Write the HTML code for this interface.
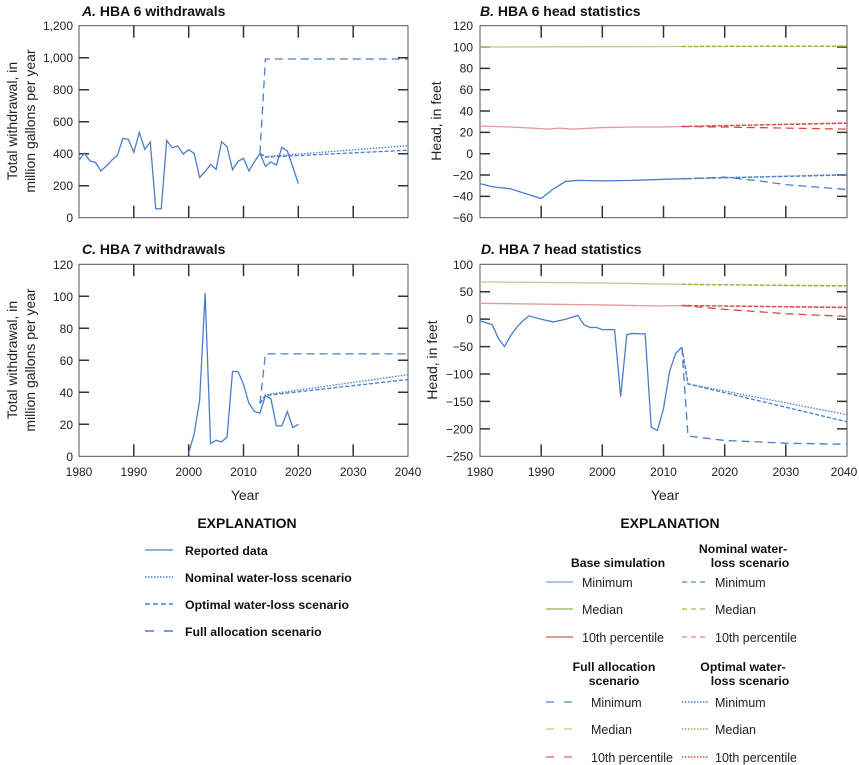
<!DOCTYPE html>
<html><head><meta charset="utf-8"><style>
html,body{margin:0;padding:0;background:#fff;}
svg{display:block;font-family:"Liberation Sans Narrow","Liberation Sans",sans-serif;}
.t{font-size:12px;fill:#222;}
.h{font-size:14px;font-weight:bold;fill:#111;}
.lg{font-size:12.5px;fill:#222;}
.lb{font-size:12.3px;font-weight:bold;fill:#111;}
.d{fill:none;vector-effect:non-scaling-stroke;stroke-width:1.3;}
.ax{fill:none;stroke:#555;stroke-width:1;}
.tk{stroke:#333;stroke-width:1.5;}
</style></head><body>
<svg width="859" height="765" viewBox="0 0 859 765">
<text x="82" y="16" class="h"><tspan font-style="italic">A.</tspan> HBA 6 withdrawals</text>
<text x="480" y="16" class="h"><tspan font-style="italic">B.</tspan> HBA 6 head statistics</text>
<text x="82" y="254" class="h"><tspan font-style="italic">C.</tspan> HBA 7 withdrawals</text>
<text x="481" y="254" class="h"><tspan font-style="italic">D.</tspan> HBA 7 head statistics</text>

<g class="t" style="font-size:14px" text-anchor="middle">
<text transform="translate(17,121) rotate(-90)">Total withdrawal, in</text>
<text transform="translate(35,121) rotate(-90)">million gallons per year</text>
<text transform="translate(17,360) rotate(-90)">Total withdrawal, in</text>
<text transform="translate(35,360) rotate(-90)">million gallons per year</text>
<text transform="translate(441,121) rotate(-90)">Head, in feet</text>
<text transform="translate(437,360) rotate(-90)">Head, in feet</text>
<text x="245" y="500">Year</text>
<text x="665" y="500">Year</text>
</g>

<rect x="79" y="25.7" width="329" height="192" class="ax"/>
<g class="tk">
<path d="M133.8,25.7v12M188.7,25.7v12M243.5,25.7v12M298.3,25.7v12M353.2,25.7v12 M133.8,217.7v-12M188.7,217.7v-12M243.5,217.7v-12M298.3,217.7v-12M353.2,217.7v-12"/>
<path d="M79,57.7h10M79,89.7h10M79,121.7h10M79,153.7h10M79,185.7h10M408,57.7h-10M408,89.7h-10M408,121.7h-10M408,153.7h-10M408,185.7h-10"/>
</g>
<g class="t" text-anchor="end">
<text x="73" y="30">1,200</text><text x="73" y="62">1,000</text><text x="73" y="94">800</text><text x="73" y="126">600</text><text x="73" y="158">400</text><text x="73" y="190">200</text><text x="73" y="222">0</text>
</g>
<g transform="translate(79,217.7) scale(5.483,-0.16)">
<polyline class="d" stroke="#4a7ec9" points="0,360 1,402 2,354 3,346 4,292 5,323 6,360 7,390 8,496 9,490 10,408 11,533 12,427 13,473 14,56 15,56 16,483 17,437 18,448 19,398 20,425 21,402 22,252 23,288 24,333 25,302 26,475 27,444 28,300 29,352 30,371 31,292 32,350 33,402 34,321 35,348 36,329 37,440 38,417 39,317 40,213"/>
<polyline class="d" stroke="#4a7ec9" stroke-dasharray="8,5" points="33,402 34,992 60,992"/>
<polyline class="d" stroke="#4a7ec9" stroke-dasharray="4,2" points="33,402 34,378 60,422"/>
<polyline class="d" stroke="#4a7ec9" stroke-dasharray="1.5,1.5" points="33,402 34,382 60,450"/>
</g>

<rect x="79" y="264.3" width="329" height="192" class="ax"/>
<g class="tk">
<path d="M133.8,264.3v12M188.7,264.3v12M243.5,264.3v12M298.3,264.3v12M353.2,264.3v12 M133.8,456.3v-12M188.7,456.3v-12M243.5,456.3v-12M298.3,456.3v-12M353.2,456.3v-12"/>
<path d="M79,296.3h10M79,328.3h10M79,360.3h10M79,392.3h10M79,424.3h10M408,296.3h-10M408,328.3h-10M408,360.3h-10M408,392.3h-10M408,424.3h-10"/>
</g>
<g class="t" text-anchor="end">
<text x="73" y="269">120</text><text x="73" y="301">100</text><text x="73" y="333">80</text><text x="73" y="365">60</text><text x="73" y="397">40</text><text x="73" y="429">20</text><text x="73" y="461">0</text>
</g>
<g class="t" text-anchor="middle">
<text x="79" y="476">1980</text><text x="133.8" y="476">1990</text><text x="188.7" y="476">2000</text><text x="243.5" y="476">2010</text><text x="298.3" y="476">2020</text><text x="353.2" y="476">2030</text><text x="408" y="476">2040</text>
</g>
<g transform="translate(79,456.3) scale(5.483,-1.6)">
<polyline class="d" stroke="#4a7ec9" points="20,2 21,14 22,35 23,102 24,8 25,10 26,9 27,12 28,53 29,53 30,45 31,33 32,28 33,27 34,38 35,36 36,19 37,19 38,28 39,18 40,20"/>
<polyline class="d" stroke="#4a7ec9" stroke-dasharray="8,5" points="33,33 34,64 60,64"/>
<polyline class="d" stroke="#4a7ec9" stroke-dasharray="4,2" points="33,33 34,38 60,48"/>
<polyline class="d" stroke="#4a7ec9" stroke-dasharray="1.5,1.5" points="33,33 34,38.5 60,51"/>
</g>

<rect x="480" y="25.7" width="367" height="192" class="ax"/>
<g class="tk">
<path d="M541.2,25.7v12M602.3,25.7v12M663.5,25.7v12M724.7,25.7v12M785.8,25.7v12 M541.2,217.7v-12M602.3,217.7v-12M663.5,217.7v-12M724.7,217.7v-12M785.8,217.7v-12"/>
<path d="M480,47h10M480,68.4h10M480,89.7h10M480,111h10M480,132.4h10M480,153.7h10M480,175h10M480,196.4h10 M847,47h-10M847,68.4h-10M847,89.7h-10M847,111h-10M847,132.4h-10M847,153.7h-10M847,175h-10M847,196.4h-10"/>
</g>
<g class="t" text-anchor="end">
<text x="473" y="30">120</text><text x="473" y="51.3">100</text><text x="473" y="72.7">80</text><text x="473" y="94">60</text><text x="473" y="115.3">40</text><text x="473" y="136.7">20</text><text x="473" y="158">0</text><text x="473" y="179.3">−20</text><text x="473" y="200.7">−40</text><text x="473" y="222">−60</text>
</g>
<g transform="translate(480,153.7) scale(6.117,-1.0667)">
<polyline class="d" stroke="#b5d08a" points="0,100 20,100.3 33,100.5"/>
<polyline class="d" stroke="#8ab640" stroke-dasharray="4,2" points="33,100.5 60,100.8"/>
<polyline class="d" stroke="#8ab640" stroke-dasharray="1.5,1.5" points="33,100.5 60,101"/>
<polyline class="d" stroke="#e29a9a" points="0,26 5,25 10,23.5 11,23 13,24 15,23 20,24.5 25,25 30,25 33,25.5"/>
<polyline class="d" stroke="#d24b4b" stroke-dasharray="8,5" points="33,25.5 40,25 50,24 60,23"/>
<polyline class="d" stroke="#d24b4b" stroke-dasharray="4,2" points="33,25.5 60,28.5"/>
<polyline class="d" stroke="#d24b4b" stroke-dasharray="1.5,1.5" points="33,25.5 60,29"/>
<polyline class="d" stroke="#4a7ec9" points="0,-28 2,-31 5,-33 10,-42 12,-33 14,-26 16,-25 20,-25.5 25,-25 30,-24 33,-23.5"/>
<polyline class="d" stroke="#4a7ec9" stroke-dasharray="8,5" points="33,-23.5 40,-22 45,-25 50,-29 60,-33.5"/>
<polyline class="d" stroke="#4a7ec9" stroke-dasharray="4,2" points="33,-23.5 60,-20"/>
<polyline class="d" stroke="#4a7ec9" stroke-dasharray="1.5,1.5" points="33,-23.5 60,-19.5"/>
</g>

<rect x="480" y="264.3" width="367" height="192" class="ax"/>
<g class="tk">
<path d="M541.2,264.3v12M602.3,264.3v12M663.5,264.3v12M724.7,264.3v12M785.8,264.3v12 M541.2,456.3v-12M602.3,456.3v-12M663.5,456.3v-12M724.7,456.3v-12M785.8,456.3v-12"/>
<path d="M480,291.7h10M480,319.1h10M480,346.6h10M480,374h10M480,401.4h10M480,428.9h10 M847,291.7h-10M847,319.1h-10M847,346.6h-10M847,374h-10M847,401.4h-10M847,428.9h-10"/>
</g>
<g class="t" text-anchor="end">
<text x="473" y="269">100</text><text x="473" y="296">50</text><text x="473" y="323.5">0</text><text x="473" y="351">−50</text><text x="473" y="378.4">−100</text><text x="473" y="405.8">−150</text><text x="473" y="433.3">−200</text><text x="473" y="460.7">−250</text>
</g>
<g class="t" text-anchor="middle">
<text x="480" y="476">1980</text><text x="541.2" y="476">1990</text><text x="602.3" y="476">2000</text><text x="663.5" y="476">2010</text><text x="724.7" y="476">2020</text><text x="785.8" y="476">2030</text><text x="844" y="476">2040</text>
</g>
<g transform="translate(480,319.2) scale(6.117,-0.5486)">
<polyline class="d" stroke="#b5d08a" points="0,68 20,66 33,63.5"/>
<polyline class="d" stroke="#8ab640" stroke-dasharray="4,2" points="33,63.5 60,61"/>
<polyline class="d" stroke="#8ab640" stroke-dasharray="1.5,1.5" points="33,63.5 60,60"/>
<polyline class="d" stroke="#e29a9a" points="0,29 10,27.5 20,26 30,24 33,25"/>
<polyline class="d" stroke="#d24b4b" stroke-dasharray="8,5" points="33,25 40,18 50,10 60,5"/>
<polyline class="d" stroke="#d24b4b" stroke-dasharray="4,2" points="33,25 60,21"/>
<polyline class="d" stroke="#d24b4b" stroke-dasharray="1.5,1.5" points="33,25 60,22"/>
<polyline class="d" stroke="#4a7ec9" points="0,-3 2,-10 3,-35 4,-50 5,-30 6,-15 7,-3 8,6 10,0 12,-5 14,0 16,7 17,-10 18,-15 19,-15 20,-19 22,-19 23,-141 24,-28 25,-26 27,-27 28,-197 29,-203 30,-163 31,-95 32,-62 33,-51"/>
<polyline class="d" stroke="#4a7ec9" stroke-dasharray="8,5" points="33,-51 34,-213 40,-221 50,-226 60,-228"/>
<polyline class="d" stroke="#4a7ec9" stroke-dasharray="4,2" points="33,-51 34,-118 60,-187"/>
<polyline class="d" stroke="#4a7ec9" stroke-dasharray="1.5,1.5" points="33,-51 34,-118 60,-174"/>
</g>

<text x="247" y="528" class="h" text-anchor="middle">EXPLANATION</text>
<g stroke-width="1.5" fill="none">
<path d="M145,550h28" stroke="#8eb0dd" stroke-width="2"/>
<path d="M145,577h28" stroke="#4a7ec9" stroke-dasharray="1.5,1.5"/>
<path d="M145,604h28" stroke="#4a7ec9" stroke-dasharray="5,3"/>
<path d="M145,631h28" stroke="#4a7ec9" stroke-dasharray="9,10"/>
</g>
<g class="lb">
<text x="185" y="555">Reported data</text>
<text x="185" y="582">Nominal water-loss scenario</text>
<text x="185" y="609">Optimal water-loss scenario</text>
<text x="185" y="636">Full allocation scenario</text>
</g>

<text x="670" y="528" class="h" text-anchor="middle">EXPLANATION</text>
<g class="lb" text-anchor="middle">
<text x="618" y="567">Base simulation</text>
<text x="743" y="553">Nominal water-</text>
<text x="750" y="567">loss scenario</text>
<text x="614" y="671">Full allocation</text>
<text x="614" y="685">scenario</text>
<text x="743" y="671">Optimal water-</text>
<text x="750" y="685">loss scenario</text>
</g>
<g fill="none" stroke-width="1.5">
<path d="M546,582h27" stroke="#8eb0dd"/>
<path d="M546,609h27" stroke="#9cc26a"/>
<path d="M546,637h27" stroke="#e29a9a" stroke-width="2"/>
<path d="M682,582h27" stroke="#6d9ad6" stroke-dasharray="5,4"/>
<path d="M682,609h27" stroke="#a8cc70" stroke-dasharray="5,4"/>
<path d="M682,637h27" stroke="#e29a9a" stroke-dasharray="5,4"/>
<path d="M546,702h27" stroke="#6d9ad6" stroke-dasharray="8,10"/>
<path d="M546,729h27" stroke="#c2d99a" stroke-dasharray="8,10"/>
<path d="M546,757h27" stroke="#e57a7a" stroke-dasharray="8,10"/>
<path d="M682,702h27" stroke="#4a7ec9" stroke-dasharray="1.5,1.5"/>
<path d="M682,729h27" stroke="#8ab640" stroke-dasharray="1.5,1.5"/>
<path d="M682,757h27" stroke="#e04a4a" stroke-dasharray="1.5,1.5"/>
</g>
<g class="lg">
<text x="582" y="587">Minimum</text><text x="582" y="614">Median</text><text x="582" y="642">10th percentile</text>
<text x="715" y="587">Minimum</text><text x="715" y="614">Median</text><text x="715" y="642">10th percentile</text>
<text x="591" y="707">Minimum</text><text x="591" y="734">Median</text><text x="591" y="762">10th percentile</text>
<text x="715" y="707">Minimum</text><text x="715" y="734">Median</text><text x="715" y="762">10th percentile</text>
</g>
</svg>
</body></html>
